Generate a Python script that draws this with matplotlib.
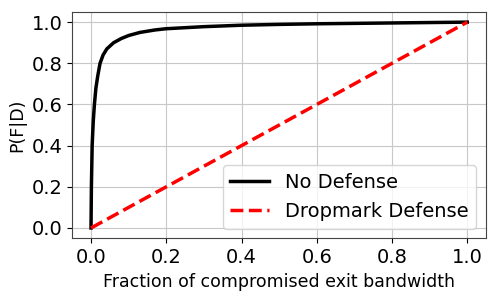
import matplotlib
matplotlib.use('Agg')
import matplotlib.pyplot as plt

# No defense curve
no_def_x = [0.0, 0.001, 0.003, 0.006, 0.009, 0.013, 0.018, 0.024, 0.032, 0.042, 0.06, 0.08,
            0.1, 0.13, 0.17, 0.2, 0.3, 0.4, 0.5, 0.6, 0.7, 0.8, 0.9, 1.0]
no_def_y = [0.0, 0.2, 0.4, 0.52, 0.6, 0.68, 0.74, 0.8, 0.84, 0.87, 0.9, 0.92,
            0.935, 0.95, 0.962, 0.968, 0.978, 0.985, 0.989, 0.992, 0.994, 0.996, 0.998, 1.0]

# Dropmark defense
drop_x = [0.0, 1.0]
drop_y = [0.0, 1.0]

fig, ax = plt.subplots(figsize=(4.98, 2.96), dpi=100)
ax.plot(no_def_x, no_def_y, color='black', linewidth=2.5, label='No Defense')
ax.plot(drop_x, drop_y, color='red', linestyle='--', linewidth=2.5, label='Dropmark Defense')

ax.set_xlabel('Fraction of compromised exit bandwidth', fontsize=12.5)
ax.set_ylabel('P(F|D)', fontsize=12.5)
ax.tick_params(labelsize=14)
ax.set_xticks([0.0, 0.2, 0.4, 0.6, 0.8, 1.0])
ax.set_yticks([0.0, 0.2, 0.4, 0.6, 0.8, 1.0])
ax.grid(True, color='#c8c8c8')
for s in ax.spines.values():
    s.set_color('#444444')
ax.legend(fontsize=14, loc='lower right')

plt.subplots_adjust(left=0.145, right=0.976, top=0.96, bottom=0.195)
plt.savefig('out.png')
